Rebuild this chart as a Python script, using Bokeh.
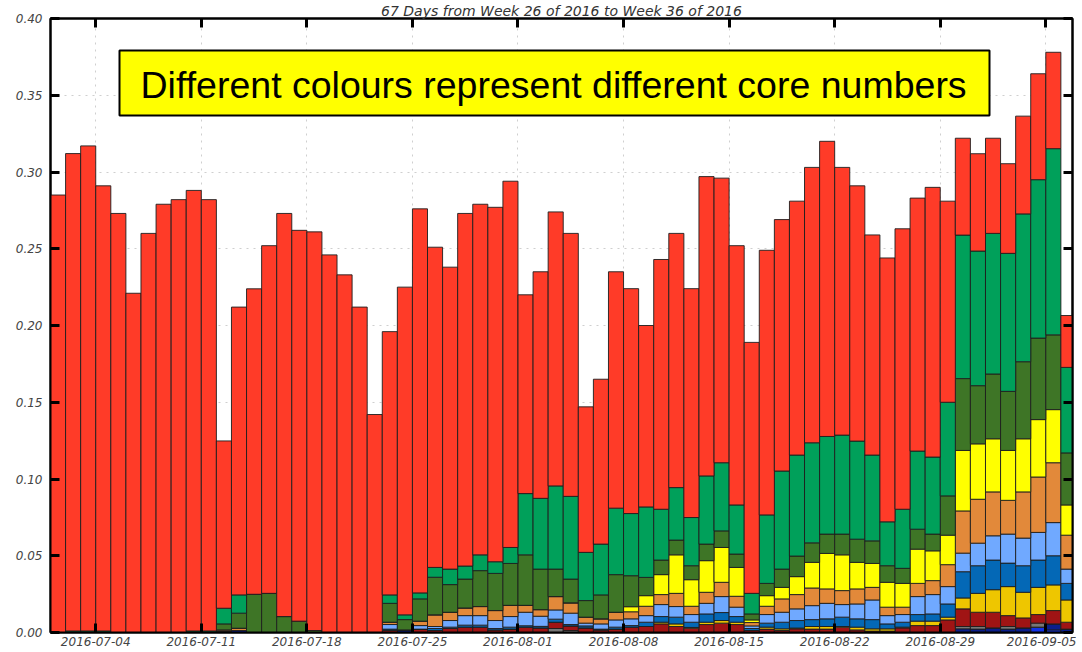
from datetime import datetime, timedelta
from bokeh.plotting import figure
from bokeh.models import (ColumnDataSource, Range1d, FixedTicker, DatetimeTickFormatter,
                          PrintfTickFormatter, LinearAxis, DatetimeAxis, BoxAnnotation, Label,
                          CustomJSTickFormatter, Title)
from bokeh.embed import file_html
from bokeh.resources import INLINE

# ---------------- data ----------------
start_day = datetime(2016, 7, 1)
n_days = 68
title_text = "67 Days from Week 26 of 2016 to Week 36 of 2016"
note_text = "Different colours represent different core numbers"
tick_labels = ["2016-07-04", "2016-07-11", "2016-07-18", "2016-07-25", "2016-08-01",
               "2016-08-08", "2016-08-15", "2016-08-22", "2016-08-29", "2016-09-05"]
y_ticks = [0.0, 0.05, 0.10, 0.15, 0.20, 0.25, 0.30, 0.35, 0.40]

# stacked layers, bottom to top
bblue = [0]*65 + [0.0035, 0.0017, 0]
navy = ([0]*11 + [0.0008, 0.0013] + [0]*10 + [0.0017] + [0]*36 +
        [0.0024, 0.0022, 0.0030, 0.0022, 0.0030, 0, 0.0039, 0.0022])
gray = ([0]*33 + [0.0026, 0.0013] + [0]*25 + [0.0015, 0.0017, 0, 0.0017, 0, 0.0026, 0, 0])
dkred = ([0]*22 + [0.0013, 0, 0.0022, 0.0013, 0.0026, 0.0035, 0.0035, 0.0017, 0.0022,
         0.0035, 0.0030, 0.0041, 0.0030, 0.0030, 0.0017, 0.0022, 0.0035, 0.0039, 0.0056,
         0.0039, 0.0028, 0.0052, 0.0061, 0.0052, 0.0013, 0.0022, 0.0013, 0.0024, 0.0022,
         0.0022, 0.0035, 0.0017, 0.0009, 0.0009, 0.0030, 0.0045, 0.0045, 0.0082, 0.0115,
         0.0093, 0.0102, 0.0071, 0.0065, 0.0056, 0.0087, 0.0045])
gold = ([0]*40 + [0.0011, 0.0017, 0.0005, 0.0015, 0.0017, 0.0015, 0, 0.0013, 0.0011,
        0.0005, 0.0017, 0.0017, 0.0004, 0.0018, 0.0015, 0.0015, 0.0005, 0.0029, 0.0029,
        0.0018, 0.0071, 0.0123, 0.0147, 0.0189, 0.0167, 0.0177, 0.0167, 0.0145])
blue = ([0]*22 + [0.0009, 0, 0, 0.0013, 0.0009, 0.0013, 0.0013, 0.0009, 0.0013, 0.0009,
        0.0010, 0.0020, 0.0009, 0.0013, 0.0005, 0.0013, 0.0010, 0.0028, 0.0037, 0.0044,
        0.0034, 0.0054, 0.0052, 0.0037, 0.0013, 0.0026, 0.0043, 0.0049, 0.0045, 0.0050,
        0.0061, 0.0054, 0.0060, 0.0032, 0.0032, 0.0043, 0.0047, 0.0086, 0.0171, 0.0180,
        0.0193, 0.0153, 0.0173, 0.0178, 0.0190, 0.0108])
lblue = ([0]*22 + [0.0030, 0, 0.0023, 0.0013, 0.0043, 0.0062, 0.0062, 0.0052, 0.0069,
         0.0088, 0.0066, 0.0060, 0.0074, 0.0018, 0.0034, 0.0047, 0.0044, 0.0043, 0.0078,
         0.0069, 0.0050, 0.0069, 0.0104, 0.0061, 0.0017, 0.0056, 0.0065, 0.0076, 0.0091,
         0.0101, 0.0082, 0.0097, 0.0128, 0.0054, 0.0050, 0.0117, 0.0126, 0.0113, 0.0121,
         0.0147, 0.0158, 0.0189, 0.0180, 0.0180, 0.0216, 0.0093])
orange = ([0]*11 + [0.0009, 0.0015] + [0]*9 + [0.0015, 0, 0.0029, 0.0076, 0.0054, 0.0050,
          0.0059, 0.0065, 0.0073, 0.0045, 0.0043, 0.0087, 0.0067, 0.0039, 0.0033, 0.0050,
          0.0046, 0.0061, 0.0065, 0.0086, 0.0054, 0.0072, 0.0093, 0.0071, 0.0022, 0.0054,
          0.0087, 0.0093, 0.0115, 0.0094, 0.0091, 0.0098, 0.0082, 0.0055, 0.0048, 0.0086,
          0.0091, 0.0143, 0.0275, 0.0286, 0.0286, 0.0220, 0.0301, 0.0361, 0.0390, 0.0221])
yellow = ([0]*38 + [0.0033, 0.0069, 0.0130, 0.0251, 0.0173, 0.0206, 0.0227, 0.0188, 0.0017,
          0.0069, 0.0075, 0.0117, 0.0167, 0.0231, 0.0233, 0.0173, 0.0156, 0.0162, 0.0155,
          0.0223, 0.0194, 0.0192, 0.0394, 0.0361, 0.0346, 0.0325, 0.0346, 0.0374, 0.0346,
          0.0197])
dkgreen = ([0]*11 + [0.0039, 0.0098, 0.0249, 0.0255, 0.0104, 0.0074, 0.0013, 0, 0, 0, 0,
           0.0123, 0.0067, 0.0145, 0.0245, 0.0180, 0.0188, 0.0234, 0.0242, 0.0273, 0.0329,
           0.0264, 0.0179, 0.0155, 0.0108, 0.0156, 0.0245, 0.0202, 0.0119, 0.0095, 0.0096,
           0.0091, 0.0108, 0.0108, 0.0087, 0.0039, 0.0080, 0.0119, 0.0134, 0.0127, 0.0126,
           0.0135, 0.0151, 0.0147, 0.0108, 0.0098, 0.0130, 0.0109, 0.0256, 0.0468, 0.0379,
           0.0422, 0.0385, 0.0502, 0.0531, 0.0487, 0.0339])
green = ([0, 0.001, 0.001, 0.001, 0, 0, 0, 0, 0, 0.001, 0.001, 0.0102, 0.0119] + [0]*9 +
         [0.0055, 0.0031, 0.0039, 0.0064, 0.0101, 0.0085, 0.0103, 0.0076, 0.0104, 0.0399,
          0.0461, 0.0542, 0.0539, 0.0314, 0.0331, 0.0433, 0.0405, 0.0459, 0.0331, 0.0342,
          0.0314, 0.0444, 0.0444, 0.0320, 0.0134, 0.0446, 0.0639, 0.0658, 0.0652, 0.0636,
          0.0645, 0.0639, 0.0559, 0.0286, 0.0385, 0.0509, 0.0502, 0.0610, 0.0935, 0.0877,
          0.0916, 0.0899, 0.0963, 0.1032, 0.1213, 0.0557])
red = [0.285, 0.311, 0.316, 0.290, 0.273, 0.221, 0.260, 0.279, 0.282, 0.287, 0.281, 0.109,
       0.1875, 0.199, 0.2265, 0.2626, 0.2546, 0.2597, 0.246, 0.233, 0.212, 0.142, 0.1715,
       0.2135, 0.2502, 0.2086, 0.1967, 0.2297, 0.2284, 0.2309, 0.2386, 0.1295, 0.1476,
       0.1785, 0.1713, 0.0948, 0.1074, 0.154, 0.1465, 0.1182, 0.1627, 0.1656, 0.1491,
       0.195, 0.1854, 0.1689, 0.1635, 0.1724, 0.1638, 0.1654, 0.1794, 0.1923, 0.1744,
       0.1663, 0.1434, 0.1719, 0.1827, 0.1648, 0.1757, 0.131, 0.0631, 0.0634, 0.062,
       0.0584, 0.0637, 0.069, 0.0628, 0.0338]

layer_names = ["bblue", "navy", "gray", "dkred", "gold", "blue", "lblue", "orange",
               "yellow", "dkgreen", "green", "red"]
layer_values = [bblue, navy, gray, dkred, gold, blue, lblue, orange, yellow, dkgreen, green, red]
layer_colors = ["#1232E6", "#0B1E8A", "#777777", "#A01414", "#EEC600", "#0468B6", "#70A9FF",
                "#E2893A", "#FFFF00", "#3E7526", "#00A05A", "#FF3B28"]

# ---------------- build ----------------
DAY = 86400000.0
EPOCH = datetime(1970, 1, 1)


def ms(d):
    return (d - EPOCH).total_seconds() * 1000.0


x0 = ms(start_day)
centers = [x0 + (i + 0.5) * DAY for i in range(n_days)]
data = {"x": centers}
for nm, vals in zip(layer_names, layer_values):
    data[nm] = vals
source = ColumnDataSource(data)

FW, FH = 1022, 614
days_visible = 67.77
x_end = x0 + days_visible * DAY
px_per_day = FW / days_visible
val_per_px = 0.40 / FH

p = figure(frame_width=FW, frame_height=FH, x_axis_type="datetime",
           x_range=Range1d(x0, x_end), y_range=Range1d(0, 0.40),
           output_backend="svg", toolbar_location=None,
           min_border_left=50, min_border_top=16, min_border_right=4, min_border_bottom=20,
           background_fill_color="white", border_fill_color="white")

p.title = Title(text=title_text, align="center", text_font="DejaVu Sans",
                text_font_style="italic", text_font_size="14px", text_color="#333333",
                standoff=0, offset=0, vertical_align="bottom")

p.vbar_stack(layer_names, x="x", width=DAY, color=layer_colors, source=source,
             line_color="#1e1e1e", line_width=1, line_alpha=0.9)

tick_ms = [ms(datetime.strptime(t, "%Y-%m-%d")) for t in tick_labels]

bottom_ax = p.below[0]
left_ax = p.left[0]
top_ax = DatetimeAxis()
right_ax = LinearAxis()
p.add_layout(top_ax, "above")
p.add_layout(right_ax, "right")

fmt = "%Y-%m-%d"
for ax in (bottom_ax, top_ax):
    ax.ticker = FixedTicker(ticks=tick_ms)
bottom_ax.formatter = DatetimeTickFormatter(days=fmt, months=fmt, hours=fmt, years=fmt,
                                            milliseconds=fmt, seconds=fmt, minsec=fmt,
                                            minutes=fmt, hourmin=fmt)
for ax in (left_ax, right_ax):
    ax.ticker = FixedTicker(ticks=y_ticks)
left_ax.formatter = PrintfTickFormatter(format="%.2f")
for ax in (top_ax, right_ax):
    ax.formatter = CustomJSTickFormatter(code="return ''")
    ax.major_label_standoff = 0

for ax in (bottom_ax, left_ax, top_ax, right_ax):
    ax.major_tick_in = 9
    ax.major_tick_out = 0
    ax.major_tick_line_width = 3
    ax.major_tick_line_color = "black"
    ax.minor_tick_line_color = None
    ax.axis_line_color = "black"
    ax.axis_line_width = 2
    ax.major_label_text_font = "DejaVu Sans"
    ax.major_label_text_font_style = "italic"
    ax.major_label_text_font_size = "12px"
    ax.major_label_text_color = "#444444"

bottom_ax.major_label_standoff = 4
left_ax.major_label_standoff = 8

p.outline_line_color = "black"
p.outline_line_width = 2

p.xgrid.grid_line_color = "#cfcfcf"
p.ygrid.grid_line_color = "#cfcfcf"
p.xgrid.grid_line_dash = "2 5"
p.ygrid.grid_line_dash = "2 5"

# note box (yellow)
box_left_day, box_right_day = (119 - 50) / px_per_day, (989 - 50) / px_per_day
box_top, box_bottom = (632 - 50) * val_per_px, (632 - 115) * val_per_px
p.add_layout(BoxAnnotation(left=x0 + box_left_day * DAY, right=x0 + box_right_day * DAY,
                           top=box_top, bottom=box_bottom, fill_color="#FFFF00",
                           fill_alpha=1.0, line_color="black", line_width=2, line_alpha=1.0,
                           level="annotation"))
p.add_layout(Label(x=x0 + (140 - 50) / px_per_day * DAY, y=(632 - 84) * val_per_px,
                   text=note_text, text_font="Liberation Sans",
                   text_font_size="37.5px", text_color="black",
                   text_align="left", text_baseline="alphabetic"))

open("out.html", "w").write(file_html(p, INLINE))
